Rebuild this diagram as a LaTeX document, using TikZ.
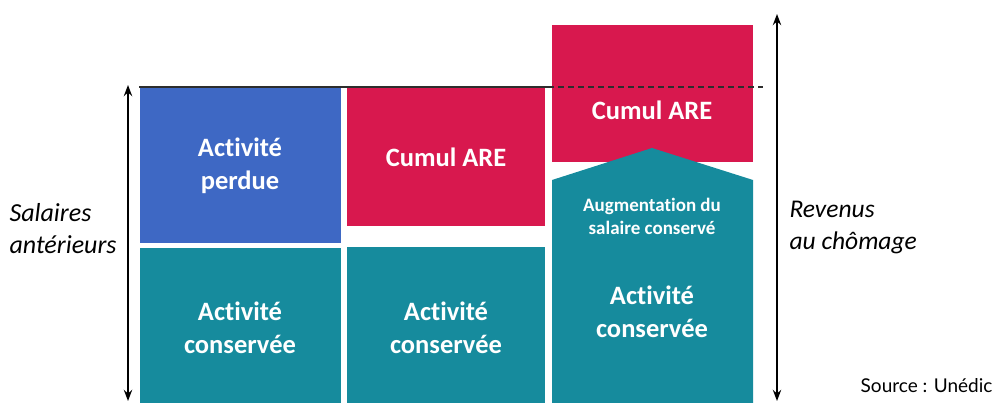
\documentclass[tikz,border=0pt]{standalone}
\usepackage{fontspec}
\setmainfont{Carlito}[Ligatures=NoCommon]
\newfontfamily\srcfont{Lato}
\usepackage{tikz}
\usetikzlibrary{arrows.meta, positioning}
\definecolor{perdue}{RGB}{62, 104, 196}
\definecolor{cumul}{RGB}{216, 24, 78}
\definecolor{conserve}{RGB}{22, 139, 157}
\definecolor{ligne}{RGB}{45, 45, 45}

\begin{document}
\begin{tikzpicture}[
    x=1pt, y=-1pt,
    >=Stealth,
    bloc/.style={anchor=north west, inner sep=0pt, text=white, align=center,
      font=\bfseries\fontsize{26.5}{33}\selectfont},
    petit/.style={text=white, align=center, font=\bfseries\fontsize{19}{23}\selectfont},
    legende/.style={align=left, anchor=west, font=\itshape\fontsize{26}{32}\selectfont}
  ]
  \useasboundingbox (0,0) rectangle (1004,403);

  % Blocs de gauche
  \node[bloc, fill=perdue, minimum width=201pt, minimum height=156pt] (perdue) at (140,87) {};
  \node[bloc, anchor=center] at (240,166) {Activité\\perdue};
  \node[bloc, fill=conserve, minimum width=201pt, minimum height=155pt] (cons1) at (140,248) {};
  \node[bloc, anchor=center] at (240,328) {Activité\\conservée};

  % Blocs du milieu
  \node[bloc, fill=cumul, minimum width=198pt, minimum height=139pt] (cumul1) at (347,87) {};
  \node[bloc, anchor=center] at (446,157) {Cumul ARE};
  \node[bloc, fill=conserve, minimum width=198pt, minimum height=156pt] (cons2) at (347,247) {};
  \node[bloc, anchor=center] at (446,328) {Activité\\conservée};

  % Blocs de droite
  \node[bloc, fill=cumul, minimum width=201pt, minimum height=137pt] (cumul2) at (552,25) {};
  \node[bloc, anchor=center] at (652,110) {Cumul ARE};
  \fill[conserve] (552,403) -- (552,180) -- (652,148) -- (753,180) -- (753,403) -- cycle;
  \node[petit] (augm) at (652,216) {Augmentation du\\salaire conservé};
  \node[bloc, anchor=center] (cons3) at (652,312) {Activité\\conservée};

  % Niveau du salaire
  \coordinate (n0) at (139,87);
  \coordinate (n1) at (548,87);
  \coordinate (n2) at (763,87);
  \draw[ligne, line width=2.8pt] (n0) -- (n1);
  \draw[ligne, line width=2.8pt, dash pattern=on 6pt off 4pt] (n1) -- (n2);

  % Fleches
  \coordinate (g1) at (128,85);
  \coordinate (g2) at (128,401);
  \coordinate (d1) at (777,14);
  \coordinate (d2) at (777,401);
  \draw[<->, line width=1.8pt] (g1) -- (g2);
  \draw[<->, line width=1.8pt] (d1) -- (d2);

  % Legendes
  \node[legende] (sal) at (6,229) {Salaires\\antérieurs};
  \node[legende, font=\itshape\fontsize{25.5}{32}\selectfont] (rev) at (786,228) {Revenus\\au chômage};
  \node[anchor=east, font=\srcfont\fontsize{19}{21}\selectfont] (src) at (996,386) {Source : Unédic};

\end{tikzpicture}
\end{document}
